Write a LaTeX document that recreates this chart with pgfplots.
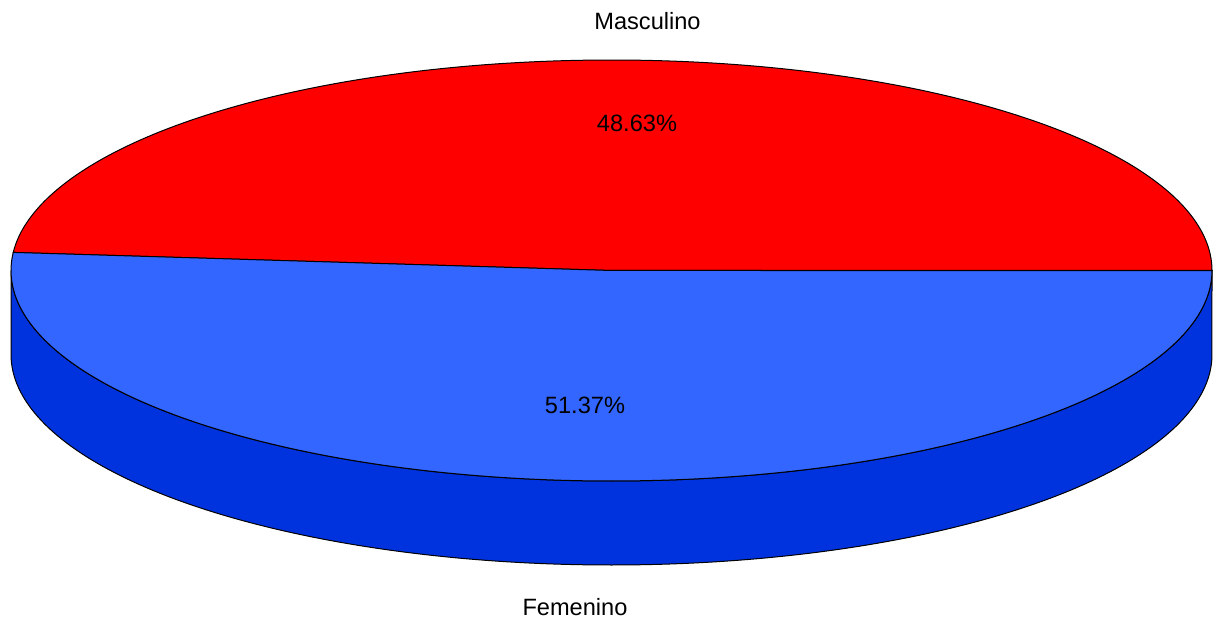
\documentclass[border=0pt]{standalone}
\usepackage{pgfplots}
\pgfplotsset{compat=1.18}
\usepackage{fontspec}
\setmainfont{Liberation Sans}
\definecolor{mred}{HTML}{FF0000}
\definecolor{ftop}{HTML}{3366FF}
\definecolor{fside}{HTML}{0033DD}
% data (percent)
\def\pMasc{48.63}
\def\pFem{51.37}
% geometry in pixel units
\def\cx{611.5}
\def\cy{350.5}
\def\rx{600.5}
\def\ry{210.5}
\def\dd{84}
\begin{document}
\begin{tikzpicture}
\pgfmathsetmacro{\aM}{3.6*\pMasc}
\begin{axis}[
  width=606.5pt, height=310.5pt, scale only axis,
  xmin=0, xmax=1213, ymin=0, ymax=621,
  hide axis, clip=false,
]
% front wall (Femenino)
\addplot[fill=fside, draw=black, line width=0.5pt, domain=180:540, samples=361]
  ({\cx + \rx*cos(x)}, {x<=360 ? \cy + \ry*sin(x) : \cy - \dd - \ry*sin(x)}) -- cycle;
% top: Masculino
\addplot[fill=mred, draw=black, line width=0.5pt, domain=0:\aM, samples=200]
  ({\cx + \rx*cos(x)}, {\cy + \ry*sin(x)}) -- (axis cs:\cx,\cy) -- cycle;
% top: Femenino
\addplot[fill=ftop, draw=black, line width=0.5pt, domain=\aM:360, samples=200]
  ({\cx + \rx*cos(x)}, {\cy + \ry*sin(x)}) -- (axis cs:\cx,\cy) -- cycle;
\tikzset{lbl/.style={anchor=base, inner sep=0pt, font=\fontsize{11.8}{13}\selectfont}}
\node[lbl] at (axis cs:647.5,591) {Masculino};
\node[lbl] at (axis cs:637,489) {\pMasc\%};
\node[lbl] at (axis cs:585,207) {\pFem\%};
\node[lbl] at (axis cs:575,6) {Femenino};
\end{axis}
\path (current axis.south west) rectangle (current axis.north east);
\end{tikzpicture}
\end{document}
